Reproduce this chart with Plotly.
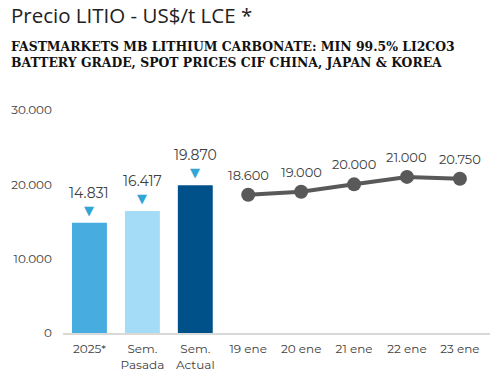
import plotly.graph_objects as go

bar_cats = ["2025*", "Sem.<br>Pasada", "Sem.<br>Actual"]
bar_vals = [14831, 16417, 19870]
bar_colors = ["#47acdf", "#a4dbf6", "#00508a"]
bar_labels = ["14.831", "16.417", "19.870"]

line_cats = ["19 ene", "20 ene", "21 ene", "22 ene", "23 ene"]
line_vals = [18600, 19000, 20000, 21000, 20750]
line_labels = ["18.600", "19.000", "20.000", "21.000", "20.750"]

tick_vals = [0, 10000, 20000, 30000]
tick_text = ["0", "10.000", "20.000", "30.000"]

all_cats = bar_cats + line_cats

fig = go.Figure()
fig.add_trace(go.Bar(x=bar_cats, y=bar_vals, marker_color=bar_colors, width=0.66,
                     marker_line_width=0, showlegend=False, hoverinfo="skip"))
fig.add_trace(go.Scatter(x=line_cats, y=line_vals, mode="lines+markers",
                         line=dict(color="#595959", width=4),
                         marker=dict(color="#595959", size=14),
                         showlegend=False, hoverinfo="skip"))

annots = []
for c, v, t in zip(bar_cats, bar_vals, bar_labels):
    annots.append(dict(x=c, y=v, text="▼", showarrow=False, yanchor="bottom", yshift=3,
                       font=dict(color="#31a6d6", size=13, family="DejaVu Sans")))
    annots.append(dict(x=c, y=v, text=t, showarrow=False, yanchor="bottom", yshift=19,
                       font=dict(color="#404040", size=14, family="Montserrat, Open Sans, sans-serif")))
for c, v, t in zip(line_cats, line_vals, line_labels):
    annots.append(dict(x=c, y=v, text=t, showarrow=False, yanchor="bottom", yshift=10,
                       font=dict(color="#404040", size=13, family="Montserrat, Open Sans, sans-serif")))

# plot area spans 427 px wide x 223 px tall
annots.append(dict(xref="paper", yref="paper", x=-0.127, y=1.426, xanchor="left", yanchor="middle",
                   text="Precio LITIO - US$/t LCE *", showarrow=False,
                   font=dict(size=20.5, color="#222222", family="Open Sans, sans-serif")))
annots.append(dict(xref="paper", yref="paper", x=-0.127, y=1.247, xanchor="left", yanchor="middle",
                   align="left",
                   text="<b>FASTMARKETS MB LITHIUM CARBONATE: MIN 99.5% LI2CO3<br>BATTERY GRADE, SPOT PRICES CIF CHINA, JAPAN &amp; KOREA</b>",
                   showarrow=False,
                   font=dict(size=12.4, color="#111111", family="DejaVu Serif, serif")))

fig.update_layout(
    width=491, height=377,
    margin=dict(l=63, r=1, t=110, b=44),
    plot_bgcolor="white", paper_bgcolor="white",
    annotations=annots,
    font=dict(family="Montserrat, Open Sans, sans-serif", color="#404040", size=12),
)
fig.update_xaxes(type="category", categoryorder="array", categoryarray=all_cats,
                 showgrid=False, showline=True, linecolor="#d9d9d9", linewidth=2,
                 ticks="", ticklabelstandoff=4, tickfont=dict(size=12, color="#404040"))
fig.update_yaxes(range=[0, 30000], tickvals=tick_vals, ticktext=tick_text,
                 showgrid=False, zeroline=False, showline=False, ticks="",
                 ticklabelstandoff=10,
                 tickfont=dict(size=12, color="#404040"))

fig.write_html("out.html", config={"displayModeBar": False},
               post_script="document.body.style.margin='0';")
